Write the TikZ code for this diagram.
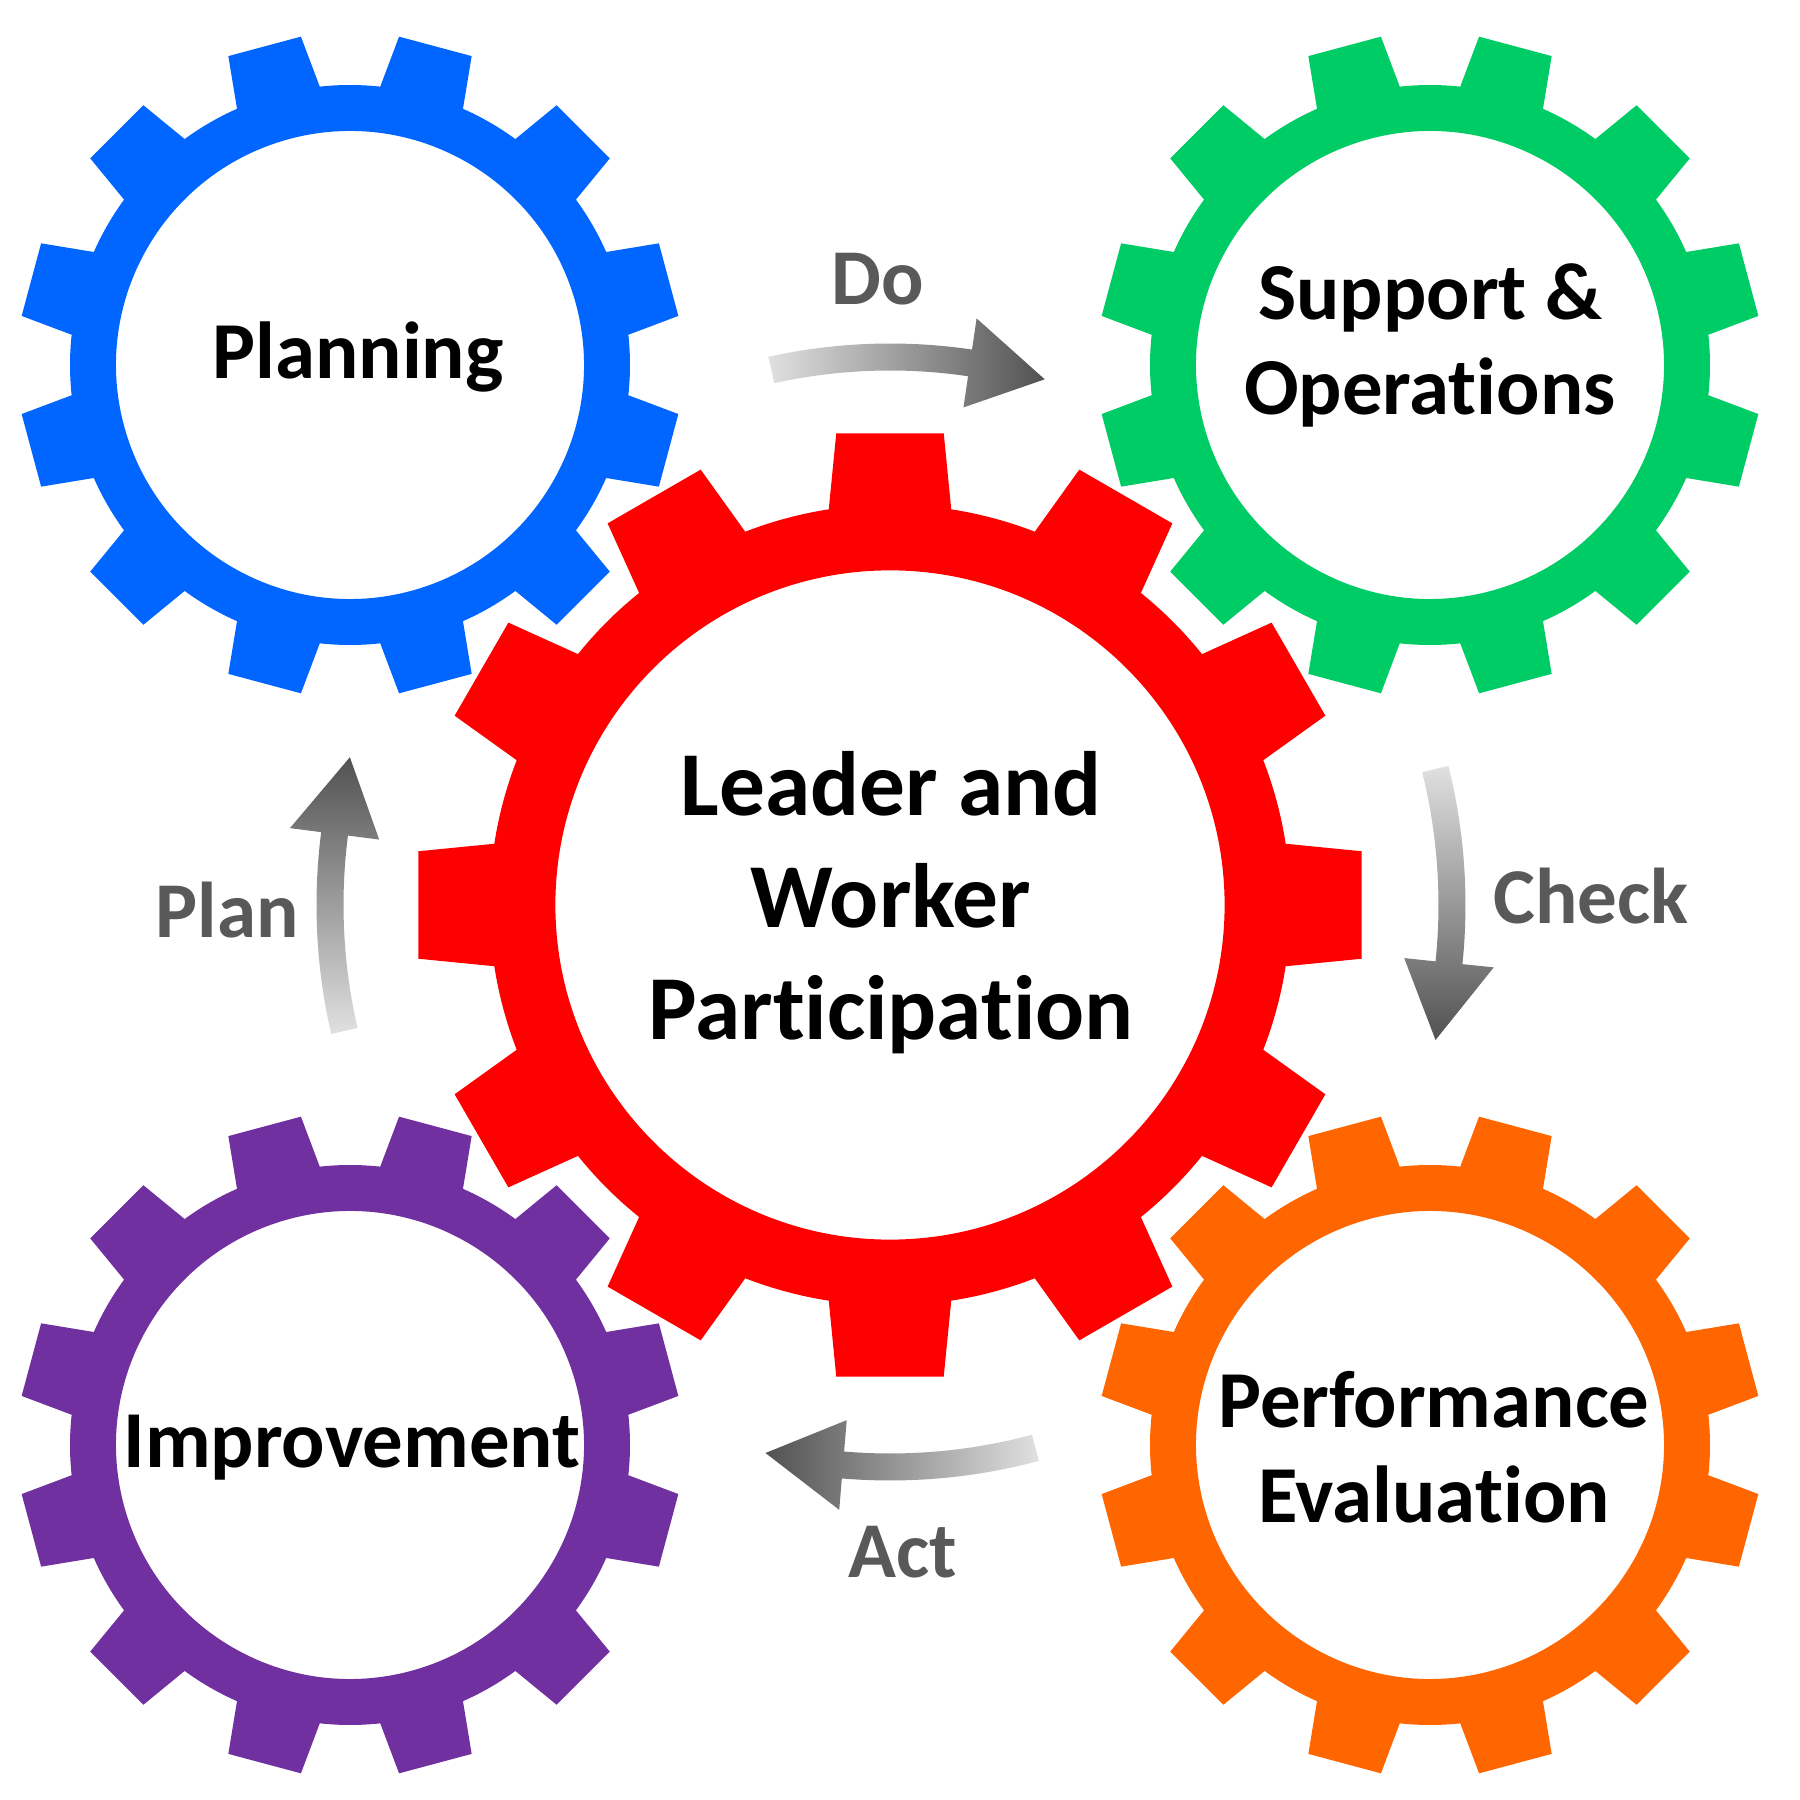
\documentclass[tikz,border=0pt]{standalone}
\usepackage{fontspec}
\setmainfont{Carlito}[Ligatures=NoCommon]

\definecolor{cogblue}{RGB}{0,102,255}
\definecolor{coggreen}{RGB}{0,204,102}
\definecolor{cogorange}{RGB}{255,102,0}
\definecolor{cogpurple}{RGB}{112,48,160}
\definecolor{cogred}{RGB}{255,0,0}
\definecolor{stepgray}{RGB}{89,89,89}

% curved step arrow round the hub: tail angle, tip angle, radius, shading
\newcommand{\turnarrow}[4]{%
  \pgfmathsetmacro{\baseang}{#2+8}
  \shade[#4] (#1:#3+0.135) arc[start angle=#1, end angle=\baseang, radius=#3+0.135]
    -- (\baseang:#3+0.45) -- (#2:#3) -- (\baseang:#3-0.45) -- (\baseang:#3-0.135)
    arc[start angle=\baseang, end angle=#1, radius=#3-0.135] -- cycle;}

\tikzset{
  pics/cog/.style={code={
    \fill[#1,even odd rule] (-8.8:2.8)
      \foreach \a in {0,30,...,330}{
        -- (\a-8.8:2.8) -- (\a-6.5:3.32) -- (\a+6.5:3.32) -- (\a+8.8:2.8)
        arc[start angle=\a+8.8, end angle=\a+21.2, radius=2.8]}
      -- cycle (0,0) circle (2.34);
  }},
  gearlabel/.style={font=\bfseries\fontsize{23}{27.3}\selectfont,align=center,inner sep=0pt},
  hublabel/.style={font=\bfseries\fontsize{26}{31.9}\selectfont,align=center,inner sep=0pt},
  steplabel/.style={font=\bfseries\fontsize{22.5}{27}\selectfont,text=stepgray,inner sep=0pt}
}

\begin{document}
\begin{tikzpicture}
\fill[white] (0,0) rectangle (18,18);
\useasboundingbox (0,0) rectangle (18,18);

\coordinate (hub) at (8.9,8.95);
\pic[rotate=15] at (3.5,14.35) {cog=cogblue};
\pic[rotate=15] at (14.3,14.35) {cog=coggreen};
\pic[rotate=15] at (3.5,3.55) {cog=cogpurple};
\pic[rotate=15] at (14.3,3.55) {cog=cogorange};
\pic[scale=1.43] at (hub) {cog=cogred};

% base of a multi-line label is its last line
\node[gearlabel,anchor=base] (planning) at (3.58,14.21) {Planning};
\node[gearlabel,anchor=base] (support) at (14.30,13.85) {Support \&\\Operations};
\node[gearlabel,anchor=base] (improvement) at (3.52,3.32) {Improvement};
\node[gearlabel,anchor=base] (performance) at (14.34,2.77) {Performance\\Evaluation};
\node[hublabel,anchor=base] (leader) at (8.91,7.60) {Leader and\\Worker\\Participation};

\begin{scope}[shift={(hub)}]
\turnarrow{102.5}{73.6}{5.48}{left color=black!12,right color=black!68}
\turnarrow{14}{-13.9}{5.62}{top color=black!12,bottom color=black!68}
\turnarrow{-75}{-102.8}{5.62}{right color=black!12,left color=black!68}
\turnarrow{193}{164.7}{5.6}{bottom color=black!12,top color=black!68}
\end{scope}

\node[steplabel,anchor=base] (do) at (8.78,14.95) {Do};
\node[steplabel,anchor=base] (check) at (15.91,8.76) {Check};
\node[steplabel,anchor=base] (act) at (9.03,2.22) {Act};
\node[steplabel,anchor=base] (plan) at (2.27,8.62) {Plan};
\end{tikzpicture}
\end{document}
